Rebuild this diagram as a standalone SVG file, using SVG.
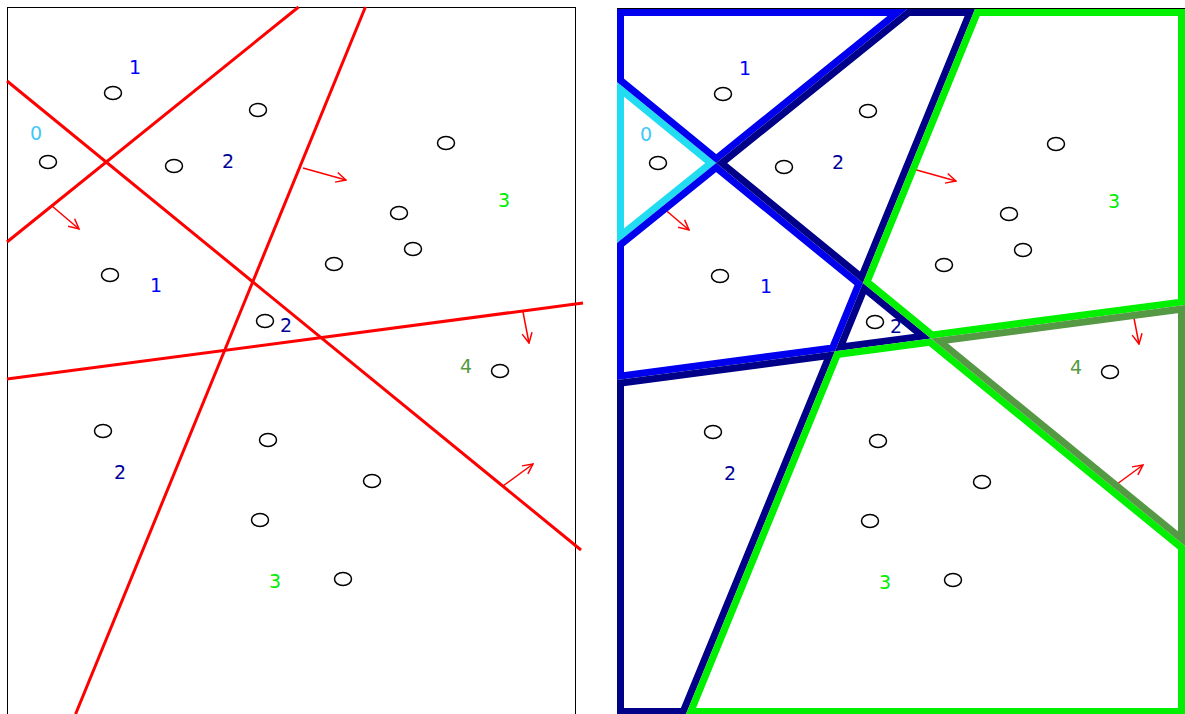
<svg xmlns="http://www.w3.org/2000/svg" xmlns:xlink="http://www.w3.org/1999/xlink" width="1185" height="714" viewBox="0 0 1185 714">
<style>
.frame{fill:none;stroke:#000;stroke-width:1}
.cut{stroke:#ff0000;stroke-width:3;fill:none}
.arr{stroke:#ff0000;stroke-width:1.5;fill:none;marker-end:url(#ah)}
.pt{fill:#fff;stroke:#000;stroke-width:1.5}
.lbl{font-family:"DejaVu Sans","Verdana",sans-serif;font-size:19px;text-anchor:middle}
.t0{fill:#3fc8f8}.t1{fill:#0000ff}.t2{fill:#000099}.t3{fill:#00ee00}.t4{fill:#559944}
.cell{fill:none;stroke-width:14;stroke-linejoin:miter}
.c0{stroke:#22ddf2}.c1{stroke:#0000ee}.c2{stroke:#000088}.c3{stroke:#00f000}.c4{stroke:#559944}
</style>
<defs>
<marker id="ah" viewBox="0 0 12 12" refX="11" refY="6" markerWidth="12" markerHeight="12" markerUnits="userSpaceOnUse" orient="auto">
<path d="M1,1 L11,6 L1,11" fill="none" stroke="#ff0000" stroke-width="1.5"/>
</marker>
<polygon id="p0" points="7,81 106.2,162.1 7,242"/>
<polygon id="p1a" points="7,8 297.3,8 106.2,162.1 7,81"/>
<polygon id="p1b" points="7,242 106.2,162.1 252.9,281.9 224.9,350.3 7,379"/>
<polygon id="p2a" points="106.2,162.1 297.3,8 365,8 252.9,281.9"/>
<polygon id="p2b" points="252.9,281.9 321,337.6 224.9,350.3"/>
<polygon id="p2c" points="7,379 224.9,350.3 75.6,714 7,714"/>
<polygon id="p3a" points="365,8 575,8 575,304.1 321,337.6 252.9,281.9"/>
<polygon id="p3b" points="224.9,350.3 321,337.6 575,545.1 575,714 75.6,714"/>
<polygon id="p4" points="321,337.6 575,304.1 575,545.1"/>
<clipPath id="k0"><use xlink:href="#p0"/></clipPath>
<clipPath id="k1a"><use xlink:href="#p1a"/></clipPath>
<clipPath id="k1b"><use xlink:href="#p1b"/></clipPath>
<clipPath id="k2a"><use xlink:href="#p2a"/></clipPath>
<clipPath id="k2b"><use xlink:href="#p2b"/></clipPath>
<clipPath id="k2c"><use xlink:href="#p2c"/></clipPath>
<clipPath id="k3a"><use xlink:href="#p3a"/></clipPath>
<clipPath id="k3b"><use xlink:href="#p3b"/></clipPath>
<clipPath id="k4"><use xlink:href="#p4"/></clipPath>
<g id="arrows">
<line class="arr" x1="52" y1="206" x2="79" y2="229"/>
<line class="arr" x1="303" y1="168" x2="346" y2="180"/>
<line class="arr" x1="523" y1="312" x2="529" y2="343"/>
<line class="arr" x1="503" y1="486" x2="533" y2="464"/>
</g>
<g id="points">
<ellipse class="pt" cx="113" cy="93" rx="8.5" ry="6.5"/>
<ellipse class="pt" cx="258" cy="110" rx="8.5" ry="6.5"/>
<ellipse class="pt" cx="48" cy="162" rx="8.5" ry="6.5"/>
<ellipse class="pt" cx="174" cy="166" rx="8.5" ry="6.5"/>
<ellipse class="pt" cx="446" cy="143" rx="8.5" ry="6.5"/>
<ellipse class="pt" cx="399" cy="213" rx="8.5" ry="6.5"/>
<ellipse class="pt" cx="413" cy="249" rx="8.5" ry="6.5"/>
<ellipse class="pt" cx="334" cy="264" rx="8.5" ry="6.5"/>
<ellipse class="pt" cx="110" cy="275" rx="8.5" ry="6.5"/>
<ellipse class="pt" cx="265" cy="321" rx="8.5" ry="6.5"/>
<ellipse class="pt" cx="500" cy="371" rx="8.5" ry="6.5"/>
<ellipse class="pt" cx="103" cy="431" rx="8.5" ry="6.5"/>
<ellipse class="pt" cx="268" cy="440" rx="8.5" ry="6.5"/>
<ellipse class="pt" cx="372" cy="481" rx="8.5" ry="6.5"/>
<ellipse class="pt" cx="260" cy="520" rx="8.5" ry="6.5"/>
<ellipse class="pt" cx="343" cy="579" rx="8.5" ry="6.5"/>
</g>
<g id="labels">
<text class="lbl t1" x="135" y="74">1</text>
<text class="lbl t0" x="36" y="140">0</text>
<text class="lbl t2" x="228" y="168">2</text>
<text class="lbl t3" x="504" y="207">3</text>
<text class="lbl t1" x="156" y="292">1</text>
<text class="lbl t2" x="286" y="332">2</text>
<text class="lbl t4" x="466" y="373">4</text>
<text class="lbl t2" x="120" y="479">2</text>
<text class="lbl t3" x="275" y="588">3</text>
</g>
</defs>

<g id="left-panel">
<rect class="frame" x="7.5" y="7.5" width="568" height="720"/>
<use xlink:href="#points"/>
<use xlink:href="#labels"/>
<g id="cut-lines">
<line class="cut" x1="7" y1="81" x2="581" y2="550"/>
<line class="cut" x1="7" y1="242" x2="298.6" y2="7"/>
<line class="cut" x1="365.4" y1="7" x2="75.6" y2="714"/>
<line class="cut" x1="7" y1="379" x2="583" y2="303"/>
</g>
<use xlink:href="#arrows"/>
</g>

<g id="right-panel" transform="translate(610,1)">
<line class="frame" x1="7" y1="7.5" x2="575" y2="7.5"/>
<use xlink:href="#arrows"/>
<use xlink:href="#points"/>
<use xlink:href="#labels"/>
<g id="cell-0"><use xlink:href="#p0" class="cell c0" clip-path="url(#k0)"/></g>
<g id="cell-1a"><use xlink:href="#p1a" class="cell c1" clip-path="url(#k1a)"/></g>
<g id="cell-1b"><use xlink:href="#p1b" class="cell c1" clip-path="url(#k1b)"/></g>
<g id="cell-2a"><use xlink:href="#p2a" class="cell c2" clip-path="url(#k2a)"/></g>
<g id="cell-2b"><use xlink:href="#p2b" class="cell c2" clip-path="url(#k2b)"/></g>
<g id="cell-2c"><use xlink:href="#p2c" class="cell c2" clip-path="url(#k2c)"/></g>
<g id="cell-3a"><use xlink:href="#p3a" class="cell c3" clip-path="url(#k3a)"/></g>
<g id="cell-3b"><use xlink:href="#p3b" class="cell c3" clip-path="url(#k3b)"/></g>
<g id="cell-4"><use xlink:href="#p4" class="cell c4" clip-path="url(#k4)"/></g>
</g>
</svg>
